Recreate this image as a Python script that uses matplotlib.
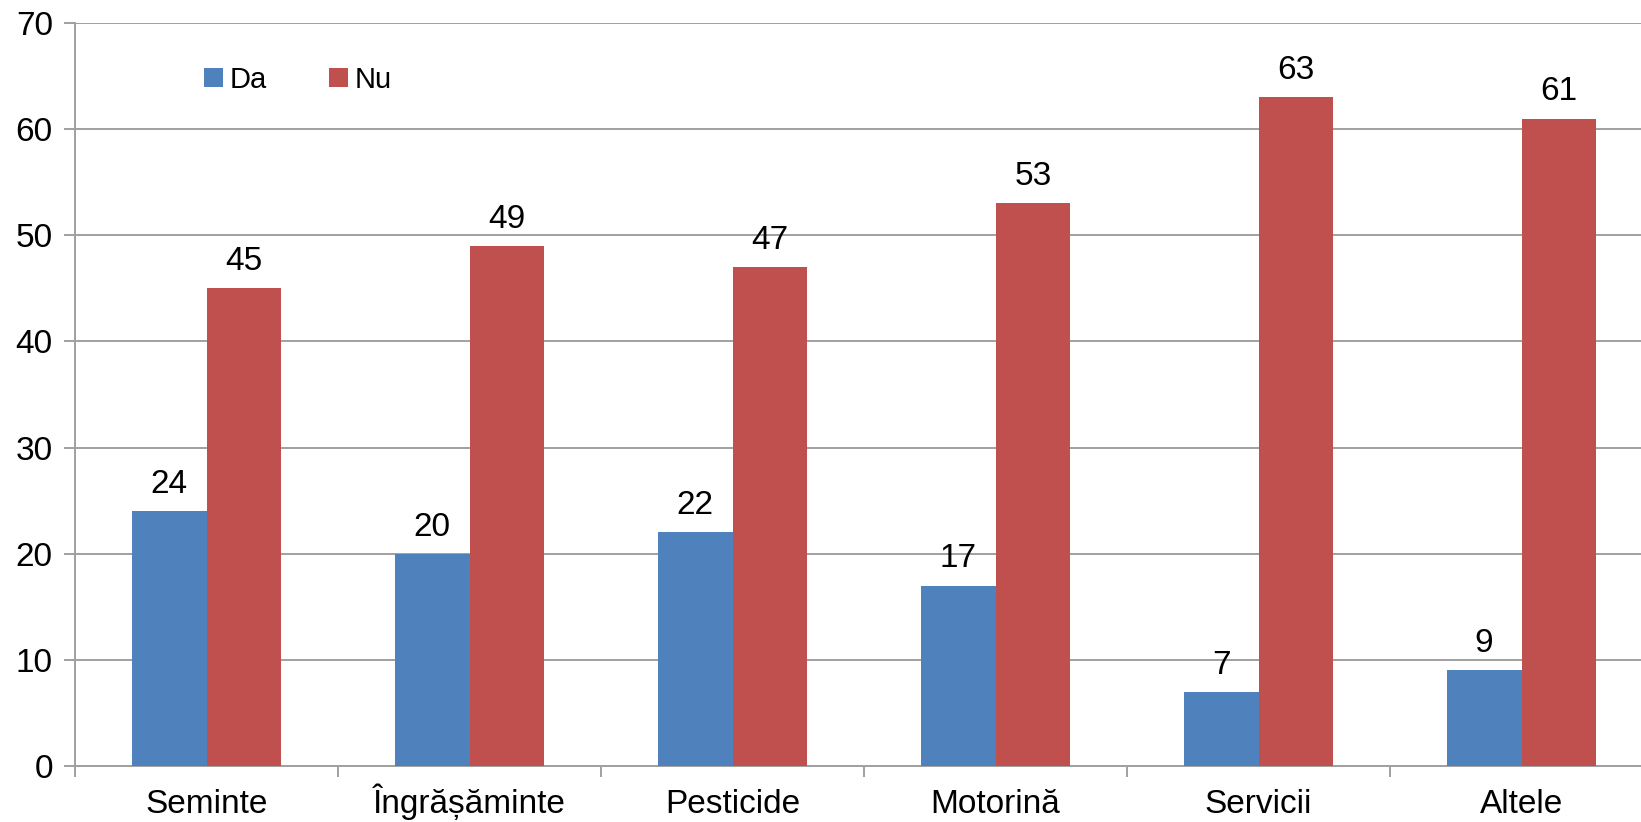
import matplotlib.pyplot as plt
import numpy as np

plt.rcParams['font.family'] = ['Liberation Sans', 'DejaVu Sans']

categories = ["Seminte", "Îngrășăminte", "Pesticide", "Motorină", "Servicii", "Altele"]
da = [24, 20, 22, 17, 7, 9]
nu = [45, 49, 47, 53, 63, 61]
series_names = ["Da", "Nu"]
yticks = [0, 10, 20, 30, 40, 50, 60, 70]

blue = "#4F81BD"
red = "#C0504D"
grid_gray = "#A0A0A0"

fig = plt.figure(figsize=(16.41, 8.22), dpi=100)
# right edge runs slightly past the figure, as in the cropped original
ax = fig.add_axes([75 / 1641, 56 / 822, 1578 / 1641, 743 / 822])

x = np.arange(len(categories))
w = 0.285
b1 = ax.bar(x - w / 2, da, w, color=blue, label=series_names[0], zorder=3)
b2 = ax.bar(x + w / 2, nu, w, color=red, label=series_names[1], zorder=3)

for bars in (b1, b2):
    for rect in bars:
        ax.annotate(f"{rect.get_height():g}",
                    (rect.get_x() + rect.get_width() / 2, rect.get_height()),
                    xytext=(0, 8), textcoords="offset points",
                    ha="center", va="bottom", fontsize=24)

ax.set_xlim(-0.5, len(categories) - 0.5)
ax.set_ylim(0, 70)
ax.set_yticks(yticks)
ax.yaxis.grid(True, color=grid_gray, linewidth=1.4, zorder=0)
ax.set_axisbelow(True)

ax.set_xticks(x)
ax.set_xticklabels(categories, fontsize=24, va="baseline")
ax.set_xticks(np.arange(-0.5, len(categories)), minor=True)
ax.tick_params(axis="x", which="major", length=0, pad=34)
ax.tick_params(axis="x", which="minor", length=8, width=1.4, color=grid_gray, direction="out")
ax.tick_params(axis="y", length=8, width=1.4, color=grid_gray, labelsize=24, pad=8)

for s in ("top", "right"):
    ax.spines[s].set_visible(False)
for s in ("left", "bottom"):
    ax.spines[s].set_color(grid_gray)
    ax.spines[s].set_linewidth(1.4)

ax.legend(loc="upper left", bbox_to_anchor=(0.065, 0.978), ncol=2, frameon=False,
          fontsize=21, handlelength=0.65, handleheight=0.65, handletextpad=0.25,
          columnspacing=2.1)

fig.savefig("out.png", dpi=100)
